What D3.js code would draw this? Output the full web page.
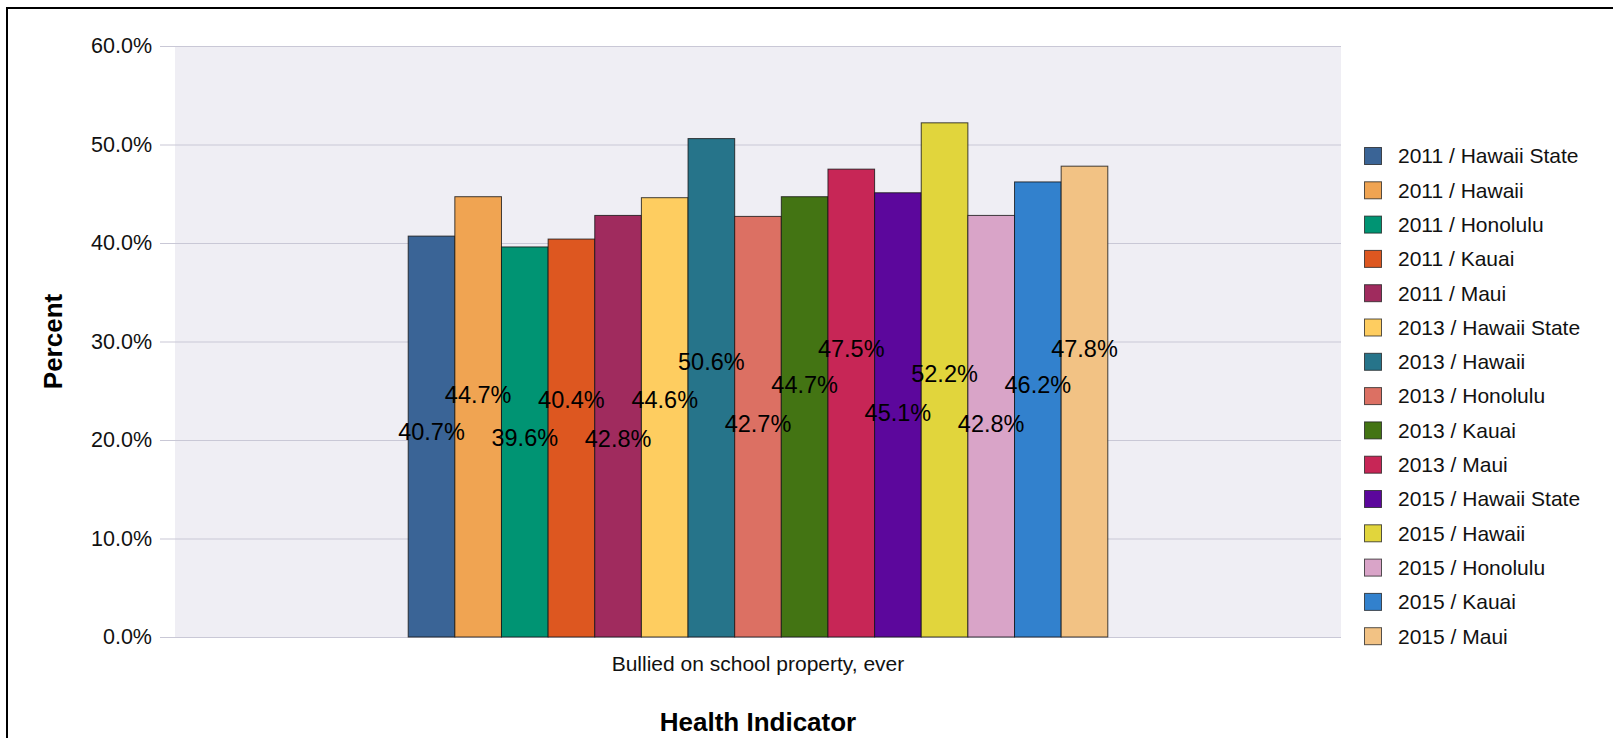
<!DOCTYPE html>
<html>
<head>
<meta charset="utf-8">
<script src="https://cdn.jsdelivr.net/npm/d3@7"></script>
<style>
  body { margin: 0; background: #fff; }
  svg { display: block; font-family: "Liberation Sans", Arial, sans-serif; }
</style>
</head>
<body>
<svg id="chart" width="1613" height="738"></svg>
<script>
// Data
const category = 'Bullied on school property, ever';
const seriesNames = [
  '2011 / Hawaii State', '2011 / Hawaii', '2011 / Honolulu', '2011 / Kauai', '2011 / Maui',
  '2013 / Hawaii State', '2013 / Hawaii', '2013 / Honolulu', '2013 / Kauai', '2013 / Maui',
  '2015 / Hawaii State', '2015 / Hawaii', '2015 / Honolulu', '2015 / Kauai', '2015 / Maui'
];
const values = [40.7, 44.7, 39.6, 40.4, 42.8, 44.6, 50.6, 42.7, 44.7, 47.5, 45.1, 52.2, 42.8, 46.2, 47.8];
const yTicks = [0, 10, 20, 30, 40, 50, 60];

// label placement (in axis units), as the original chart staggered them
const labelLevels = [20.8, 24.6, 20.2, 24.1, 20.1, 24.1, 27.9, 21.6, 25.6, 29.3, 22.8, 26.7, 21.6, 25.6, 29.3];

const colors = ['#3a6496', '#f0a452', '#009473', '#dd5720', '#a02b5e',
                '#fecd60', '#26748a', '#dc7063', '#437413', '#c72656',
                '#5c079c', '#e1d53c', '#d9a4c8', '#3281cd', '#f2c284'];

const svg = d3.select('#chart');

// frame
svg.append('rect')
  .attr('x', 7).attr('y', 8)
  .attr('width', 1640).attr('height', 760)
  .attr('fill', 'none')
  .attr('stroke', '#000')
  .attr('stroke-width', 2);

const plot = { left: 175, right: 1341, top: 46, bottom: 637 };

const yScale = d3.scaleLinear()
  .domain([0, 60])
  .range([plot.bottom, plot.top]);

const xScale = d3.scaleBand()
  .domain([category])
  .range([plot.left, plot.right])
  .paddingInner(0)
  .paddingOuter(1 / 3);

const xInner = d3.scaleBand()
  .domain(seriesNames)
  .range([0, xScale.bandwidth()]);

// plot background
svg.append('rect')
  .attr('x', plot.left).attr('y', plot.top)
  .attr('width', plot.right - plot.left)
  .attr('height', plot.bottom - plot.top)
  .attr('fill', '#efeef4');

// y axis with gridlines
const yAxis = d3.axisLeft(yScale)
  .tickValues(yTicks)
  .tickSize(plot.right - plot.left + 15)
  .tickPadding(8)
  .tickFormat(d => d.toFixed(1) + '%');

const yg = svg.append('g')
  .attr('transform', `translate(${plot.right}, 0)`)
  .call(yAxis);
yg.select('.domain').remove();
yg.selectAll('.tick line').attr('stroke', '#c9c8d6').attr('stroke-width', 1.2);
yg.selectAll('.tick text')
  .attr('x', -(plot.right - plot.left) - 23)
  .attr('font-size', 21.5)
  .attr('fill', '#111')
  .style('font-family', '"Liberation Sans", Arial, sans-serif');

// bars
const g = svg.append('g')
  .attr('transform', `translate(${xScale(category)}, 0)`);

g.selectAll('rect.bar')
  .data(values)
  .enter()
  .append('rect')
  .attr('class', 'bar')
  .attr('x', (d, i) => xInner(seriesNames[i]))
  .attr('y', d => yScale(d))
  .attr('width', xInner.bandwidth())
  .attr('height', d => yScale(0) - yScale(d))
  .attr('fill', (d, i) => colors[i])
  .attr('stroke', 'rgba(20,20,20,0.8)')
  .attr('stroke-width', 1);

// value labels
g.selectAll('text.val')
  .data(values)
  .enter()
  .append('text')
  .attr('class', 'val')
  .attr('x', (d, i) => xInner(seriesNames[i]) + xInner.bandwidth() / 2)
  .attr('y', (d, i) => yScale(labelLevels[i]))
  .attr('dy', '0.35em')
  .attr('text-anchor', 'middle')
  .attr('font-size', 23.5)
  .attr('fill', '#000')
  .text(d => d.toFixed(1) + '%');

// x category label
svg.append('text')
  .attr('x', xScale(category) + xScale.bandwidth() / 2)
  .attr('y', 664)
  .attr('dy', '0.35em')
  .attr('text-anchor', 'middle')
  .attr('font-size', 21)
  .attr('fill', '#111')
  .text(category);

// axis titles
svg.append('text')
  .attr('x', (plot.left + plot.right) / 2)
  .attr('y', 722)
  .attr('dy', '0.35em')
  .attr('text-anchor', 'middle')
  .attr('font-size', 26)
  .attr('font-weight', 'bold')
  .attr('fill', '#000')
  .text('Health Indicator');

svg.append('text')
  .attr('transform', `translate(53, ${(plot.top + plot.bottom) / 2}) rotate(-90)`)
  .attr('dy', '0.35em')
  .attr('text-anchor', 'middle')
  .attr('font-size', 26)
  .attr('font-weight', 'bold')
  .attr('fill', '#000')
  .text('Percent');

// legend
const legend = svg.append('g')
  .attr('transform', 'translate(1364, 156)');

const rows = legend.selectAll('g')
  .data(seriesNames)
  .enter()
  .append('g')
  .attr('transform', (d, i) => `translate(0, ${i * 34.3})`);

rows.append('rect')
  .attr('x', 0.5).attr('y', -8.5)
  .attr('width', 17).attr('height', 17)
  .attr('fill', (d, i) => colors[i])
  .attr('stroke', 'rgba(30,30,30,0.75)')
  .attr('stroke-width', 1);

rows.append('text')
  .attr('x', 34)
  .attr('dy', '0.35em')
  .attr('font-size', 21)
  .attr('fill', '#111')
  .text(d => d);
</script>
</body>
</html>
